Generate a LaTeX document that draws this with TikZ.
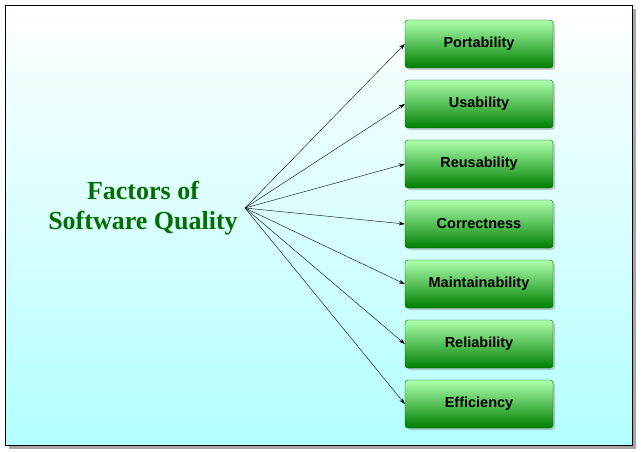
\documentclass[tikz,border=0pt]{standalone}
\usepackage{fontspec}
\setmainfont{Liberation Serif}
\setsansfont{Liberation Sans}
\usetikzlibrary{arrows.meta,shadows}
\definecolor{titlegreen}{RGB}{0,110,0}
\begin{document}
\begin{tikzpicture}[x=1pt,y=-1pt,
  fbox/.style={draw=green!40!black,rounded corners=3pt,minimum width=148pt,minimum height=48pt,
    top color=green!15!white!80!green,bottom color=green!50!black,
    drop shadow={opacity=0.4,shadow xshift=2pt,shadow yshift=-2pt},
    font=\sffamily\bfseries\fontsize{14.5}{17}\selectfont},
  conn/.style={-{Stealth[length=6pt,width=4pt]},black}]
\useasboundingbox (0,0) rectangle (641,452);
\fill[black!35] (9,9) rectangle (636,449);
\shade[top color=white,bottom color=cyan!30,draw=black] (5,5) rectangle (632,445);
\node[font=\bfseries\fontsize{26}{30}\selectfont,text=titlegreen,align=center] (t) at (143,208) {Factors of\\Software Quality};
\coordinate (s) at (245,208);
\foreach \n/\l [count=\i from 0] in {a/Portability,b/Usability,c/Reusability,d/Correctness,e/Maintainability,f/Reliability,g/Efficiency}{
  \node[fbox] (\n) at (479,{44+60*\i}) {\l};
  \draw[conn] (s) -- (\n.west);
}
\end{tikzpicture}
\end{document}
